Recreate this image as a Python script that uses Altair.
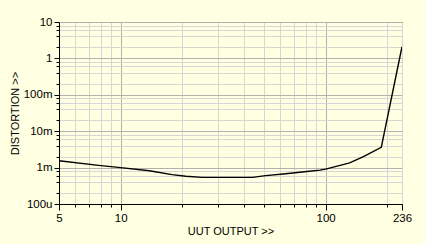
import altair as alt
import pandas as pd

# Curve data
uut_output = [5, 7.8, 10, 13.8, 17.8, 20.8, 25, 44, 51, 64, 81, 94, 100, 131, 153, 187, 236]
distortion = [1.55e-3, 1.15e-3, 1.0e-3, 0.82e-3, 0.64e-3, 0.58e-3, 0.54e-3, 0.54e-3,
              0.6e-3, 0.68e-3, 0.78e-3, 0.85e-3, 0.91e-3, 1.35e-3, 2.0e-3, 3.6e-3, 2.1]

# Axis ticks / labels
x_ticks = [5, 6, 7, 8, 9, 10, 20, 30, 40, 50, 60, 70, 80, 90, 100, 200, 236]
x_labels = [5, 10, 100, 236]
y_ticks = [0.0001, 0.0002, 0.0004, 0.0006, 0.0008,
           0.001, 0.002, 0.004, 0.006, 0.008,
           0.01, 0.02, 0.04, 0.06, 0.08,
           0.1, 0.2, 0.4, 0.6, 0.8,
           1, 2, 4, 6, 8, 10]
y_decades = [0.0001, 0.001, 0.01, 0.1, 1, 10]
y_decade_labels = ["100u", "1m", "10m", "100m", "1", "10"]

df = pd.DataFrame({"x": uut_output, "y": distortion})

BG = "#FFFFE1"
MINOR = "#D6D6D6"
MAJOR = "#B2B2B2"
FONT = "Liberation Sans"

x_label_expr = "indexof([" + ",".join(str(v) for v in x_labels) + "], datum.value) >= 0 ? datum.label : ''"
y_label_expr = "".join(
    f"datum.value == {v} ? '{l}' : " for v, l in zip(y_decades, y_decade_labels)
) + "''"
y_major_test = " || ".join(f"datum.value == {v}" for v in y_decades)

chart = alt.Chart(df).mark_line(color="black", strokeWidth=1.4, clip=True).encode(
    x=alt.X("x:Q",
            scale=alt.Scale(type="log", domain=[5, 236], nice=False),
            axis=alt.Axis(
                title="UUT OUTPUT >>",
                values=x_ticks,
                labelExpr=x_label_expr,
                format="d",
                grid=True,
                gridColor={"condition": {"test": "datum.value == 10 || datum.value == 100", "value": MAJOR}, "value": MINOR},
                gridWidth=1,
                tickSize={"condition": {"test": "datum.value == 10 || datum.value == 100 || datum.value == 5 || datum.value == 236", "value": 6}, "value": 3},
                tickColor="black",
                domainColor="black",
                labelFont=FONT,
                labelFontSize=11.5,
                labelColor="black",
                labelPadding=2,
                labelFlush=False,
                labelOverlap=False,
                titleFont=FONT,
                titleFontSize=11,
                titleFontWeight="normal",
                titleColor="black",
                titleBaseline="middle",
                titleY=27,
            )),
    y=alt.Y("y:Q",
            scale=alt.Scale(type="log", domain=[0.0001, 10], nice=False),
            axis=alt.Axis(
                title="DISTORTION >>",
                values=y_ticks,
                labelExpr=y_label_expr,
                grid=True,
                gridColor={"condition": {"test": y_major_test, "value": MAJOR}, "value": MINOR},
                gridWidth=1,
                tickSize={"condition": {"test": y_major_test, "value": 5}, "value": 3},
                tickColor="black",
                domainColor="black",
                labelFont=FONT,
                labelFontSize=11.5,
                labelColor="black",
                labelPadding=2,
                labelFlush=False,
                labelOverlap=False,
                titleFont=FONT,
                titleFontSize=11,
                titleFontWeight="normal",
                titleColor="black",
                titleBaseline="middle",
                titleX=-44,
            )),
).properties(
    width=343,
    height=182,
    background=BG,
    padding={"left": 59, "top": 22, "right": 23, "bottom": 40},
    autosize=alt.AutoSizeParams(type="none"),
).configure_view(
    stroke="black",
    strokeWidth=1,
    fill=BG,
)

chart.save("out.html", embed_options={"renderer": "svg", "actions": False})
